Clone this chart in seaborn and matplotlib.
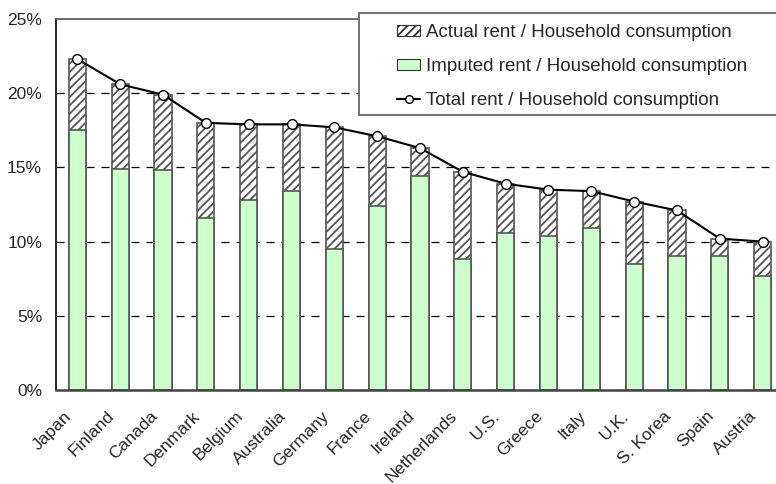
import numpy as np
import matplotlib
matplotlib.use("Agg")
import matplotlib.pyplot as plt
import matplotlib.transforms as mtransforms
import seaborn as sns
from matplotlib.patches import Patch, Rectangle
from matplotlib.lines import Line2D

countries = ["Japan", "Finland", "Canada", "Denmark", "Belgium", "Australia",
             "Germany", "France", "Ireland", "Netherlands", "U.S.", "Greece",
             "Italy", "U.K.", "S. Korea", "Spain", "Austria"]
imputed_rent = [17.5, 14.9, 14.8, 11.6, 12.8, 13.4, 9.5, 12.4, 14.4, 8.8,
                10.6, 10.4, 10.9, 8.5, 9.0, 9.0, 7.7]
actual_rent = [4.8, 5.7, 5.1, 6.4, 5.1, 4.5, 8.2, 4.7, 1.9, 5.9,
               3.3, 3.1, 2.5, 4.2, 3.1, 1.2, 2.3]
y_ticks = [0, 5, 10, 15, 20, 25]
y_tick_labels = ["0%", "5%", "10%", "15%", "20%", "25%"]

total_rent = [i + a for i, a in zip(imputed_rent, actual_rent)]

sns.set_style("white")
plt.rcParams["font.family"] = ["Liberation Sans", "DejaVu Sans"]
plt.rcParams["hatch.linewidth"] = 1.3
plt.rcParams["hatch.color"] = "#222222"
plt.rcParams["lines.scale_dashes"] = False

fig = plt.figure(figsize=(7.76, 4.84), dpi=100)
W, H = 776, 484
left, right, top, bottom = 56, 784, 19, 390
ax = fig.add_axes([left / W, 1 - bottom / H, (right - left) / W, (bottom - top) / H])

green = "#ccffcc"
edge = "#555555"
hatch = "////"

# total height drawn hatched, imputed part overlaid in green
sns.barplot(x=countries, y=total_rent, ax=ax, color="white", width=0.4,
            edgecolor=edge, linewidth=1.2, hatch=hatch, saturation=1)
sns.barplot(x=countries, y=imputed_rent, ax=ax, color=green, width=0.4,
            edgecolor=edge, linewidth=1.2, saturation=1)

sns.lineplot(x=np.arange(len(countries)), y=total_rent, ax=ax, color="black",
             linewidth=1.5, marker="o", markersize=7, markerfacecolor="white",
             markeredgecolor="black", markeredgewidth=1.0, zorder=5)

ax.set_xlim(-0.5, len(countries) - 0.5)
ax.set_ylim(0, 25)
ax.set_yticks(y_ticks)
ax.set_yticklabels(y_tick_labels)
for yv in y_ticks[1:-1]:
    ax.axhline(yv, color="black", linewidth=0.9, linestyle=(0, (5.8, 5.0)), zorder=0.5)

ax.tick_params(axis="y", length=0, pad=10, labelsize=12.5)
ax.tick_params(axis="x", length=0, pad=17, labelsize=12.5)
shift = mtransforms.ScaledTranslation(-8 / 100, 0, fig.dpi_scale_trans)
for lbl in ax.get_xticklabels():
    lbl.set_rotation(45)
    lbl.set_ha("right")
    lbl.set_va("center")
    lbl.set_rotation_mode("anchor")
    lbl.set_transform(lbl.get_transform() + shift)
ax.set_xlabel("")
ax.set_ylabel("")

ax.spines["left"].set_color("black")
ax.spines["left"].set_linewidth(1.2)
ax.spines["bottom"].set_color("#444444")
ax.spines["bottom"].set_linewidth(1.8)
ax.spines["top"].set_color("#555555")
ax.spines["top"].set_linewidth(1.2)
ax.spines["right"].set_visible(False)

# legend box running off the right edge
box = Rectangle((359 / W, 1 - 115 / H), (800 - 359) / W, (115 - 13) / H,
                transform=fig.transFigure, facecolor="white", edgecolor="#666666",
                linewidth=1.3, zorder=10)
fig.add_artist(box)

handles = [
    Patch(facecolor="white", edgecolor="#333333", hatch=hatch, linewidth=0.8),
    Patch(facecolor=green, edgecolor="#333333", linewidth=0.8),
    Line2D([0], [0], color="black", linewidth=1.5, marker="o", markersize=5.5,
           markerfacecolor="white", markeredgecolor="black"),
]
labels = ["Actual rent / Household consumption",
          "Imputed rent / Household consumption",
          "Total rent / Household consumption"]
leg = fig.legend(handles, labels, loc="upper left",
                 bbox_to_anchor=(397 / W, 1 - 24 / H), fontsize=13.5,
                 frameon=False, borderpad=0,
                 labelspacing=0.9, handlelength=1.25, handleheight=0.55,
                 handletextpad=0.3, borderaxespad=0)
leg.set_zorder(11)

fig.savefig("out.png", dpi=100)
